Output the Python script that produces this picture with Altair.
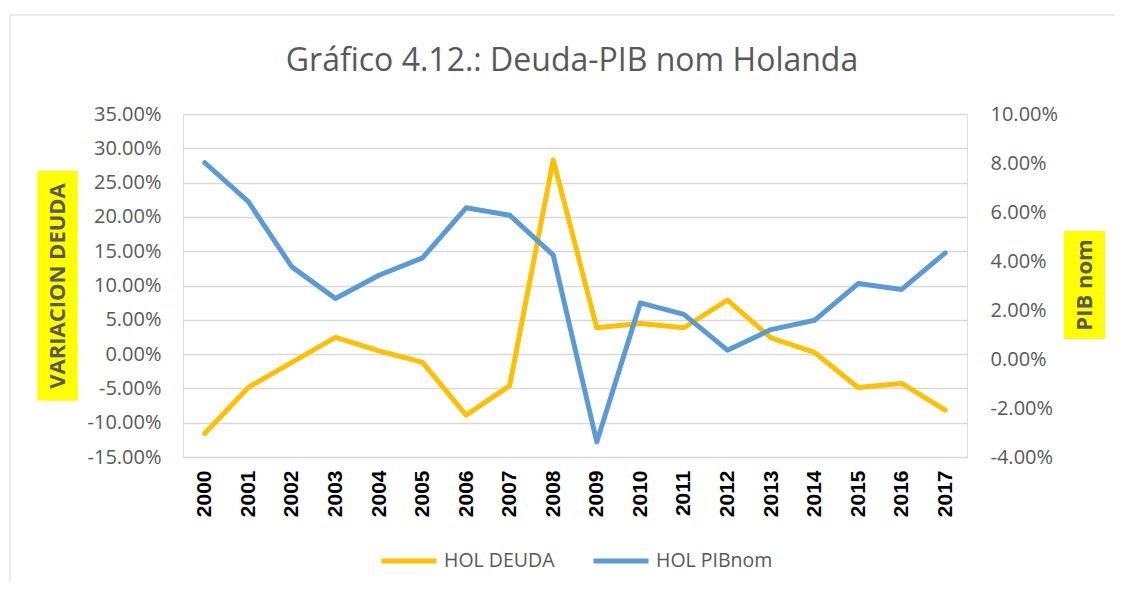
import altair as alt
import pandas as pd

years = [str(y) for y in range(2000, 2018)]
deuda = [-0.1157, -0.0486, -0.012, 0.0243, 0.0048, -0.012, -0.089, -0.046, 0.283,
         0.0384, 0.0447, 0.0384, 0.0788, 0.0238, 0.0024, -0.0486, -0.0428, -0.0817]
pib = [0.0801, 0.0642, 0.0376, 0.0247, 0.0342, 0.0413, 0.0617, 0.0587, 0.0424,
       -0.0339, 0.0229, 0.0182, 0.0036, 0.012, 0.0158, 0.0308, 0.0284, 0.0433]
series_names = ["HOL DEUDA", "HOL PIBnom"]
series_colors = ["#FFC000", "#5B9BD5"]
left_ticks = [-0.15, -0.10, -0.05, 0.0, 0.05, 0.10, 0.15, 0.20, 0.25, 0.30, 0.35]
right_ticks = [-0.04, -0.02, 0.0, 0.02, 0.04, 0.06, 0.08, 0.10]
title_text = "Gráfico 4.12.: Deuda-PIB nom Holanda"
left_title = "VARIACION DEUDA"
right_title = "PIB nom"

df = pd.DataFrame({"year": years, "deuda": deuda, "pib": pib})
one = pd.DataFrame({"k": [0]})

W, H = 784, 343
GRAY = "#595959"
FONT = "Open Sans"

color_scale = alt.Scale(domain=series_names, range=series_colors)
xenc = alt.X("year:O", sort=years, axis=alt.Axis(
    title=None, labelAngle=-90, labelFontWeight="bold", labelFontSize=21,
    labelColor="black", labelFont="Liberation Sans", labelPadding=13,
    domain=False, ticks=False))

lab = "replace(format(datum.value, '.2%'), '\u2212', '-')"

line_deuda = alt.Chart(df).transform_calculate(series=f"'{series_names[0]}'").mark_line(
    strokeWidth=5, strokeCap="round", strokeJoin="round").encode(
    x=xenc,
    y=alt.Y("deuda:Q", scale=alt.Scale(domain=[-0.15, 0.35], nice=False, zero=False),
            axis=alt.Axis(orient="left", values=left_ticks, labelExpr=lab, title=None,
                          grid=True, gridColor="#d9d9d9", gridWidth=1.3, domain=False, ticks=False,
                          labelPadding=22, labelFontSize=20, labelColor=GRAY, labelFont=FONT)),
    color=alt.Color("series:N", scale=color_scale, legend=alt.Legend(
        title=None, orient="none", legendX=196, legendY=417, direction="horizontal",
        symbolType="stroke", symbolSize=3025, symbolStrokeWidth=5,
        labelFontSize=19.5, labelColor=GRAY, labelFont=FONT, columnPadding=28,
        labelOffset=5)),
)

line_pib = alt.Chart(df).transform_calculate(series=f"'{series_names[1]}'").mark_line(
    strokeWidth=5, strokeCap="round", strokeJoin="round").encode(
    x=xenc,
    y=alt.Y("pib:Q", scale=alt.Scale(domain=[-0.04, 0.10], nice=False, zero=False),
            axis=alt.Axis(orient="right", values=right_ticks, labelExpr=lab, title=None,
                          grid=False, domain=False, ticks=False,
                          labelPadding=23, labelFontSize=20, labelColor=GRAY, labelFont=FONT)),
    color=alt.Color("series:N", scale=color_scale),
)

frame = alt.Chart(one).mark_rect(fillOpacity=0, stroke="#d9d9d9", strokeWidth=1).encode(
    x=alt.value(-173), x2=alt.value(960), y=alt.value(-99), y2=alt.value(500))

title_mark = alt.Chart(one).mark_text(fontSize=32, font=FONT, color=GRAY,
                                      align="center", baseline="middle").encode(
    x=alt.value(389), y=alt.value(-53), text=alt.value(title_text))

box_left = alt.Chart(one).mark_rect(fill="#FFFF00").encode(
    x=alt.value(-145.7), x2=alt.value(-105.3), y=alt.value(57), y2=alt.value(286.7))
text_left = alt.Chart(one).mark_text(angle=270, fontSize=22, fontWeight="bold", font=FONT,
                                     color=GRAY, align="center", baseline="middle").encode(
    x=alt.value(-125.5), y=alt.value(172), text=alt.value(left_title))

box_right = alt.Chart(one).mark_rect(fill="#FFFF00").encode(
    x=alt.value(881), x2=alt.value(922), y=alt.value(117), y2=alt.value(225))
text_right = alt.Chart(one).mark_text(angle=270, fontSize=22, fontWeight="bold", font=FONT,
                                      color=GRAY, align="center", baseline="middle").encode(
    x=alt.value(901.5), y=alt.value(171), text=alt.value(right_title))

chart = alt.layer(frame, title_mark, box_left, text_left, box_right, text_right,
                  line_deuda, line_pib).resolve_scale(
    y="independent"
).properties(
    width=W, height=H,
    autosize=alt.AutoSizeParams(type="none"),
    padding={"left": 175, "top": 106, "right": 148, "bottom": 125},
).configure_view(stroke=None).configure(background="white")

chart.save("out.html", embed_options={"renderer": "svg", "actions": False})
